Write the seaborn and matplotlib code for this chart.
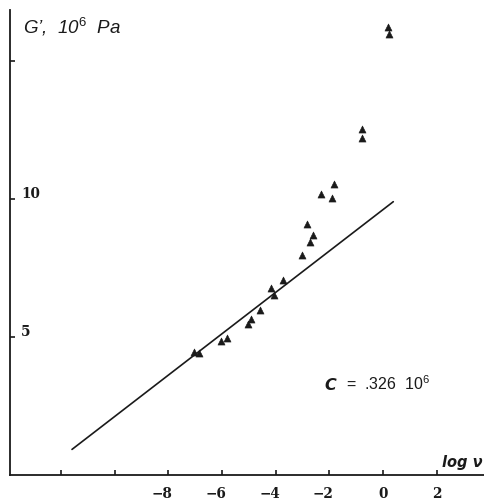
import matplotlib
matplotlib.use("Agg")
import matplotlib.pyplot as plt
import matplotlib.transforms as mtransforms
import seaborn as sns
import pandas as pd

# measured storage modulus (10^6 Pa) versus log frequency
log_nu = [0.20, 0.21, -0.79, -0.79, -1.84, -2.30, -1.89, -2.84, -2.62, -2.74,
          -3.03, -3.73, -4.19, -4.05, -4.57, -4.92, -5.05, -5.83, -6.05, -6.86, -7.05]
g_prime = [16.21, 15.96, 12.52, 12.19, 10.53, 10.16, 10.04, 9.08, 8.67, 8.43,
           7.95, 7.05, 6.75, 6.51, 5.96, 5.63, 5.47, 4.94, 4.85, 4.39, 4.43]

# straight-line reference, two end points
line_x = [-11.59, 0.38]
line_y = [0.91, 9.89]

x_ticks = [-12, -10, -8, -6, -4, -2, 0, 2]
x_tick_labels = ["", "", "−8", "−6", "−4", "−2", "0", "2"]
y_ticks = [5, 10, 15]
y_tick_labels = ["5", "10", ""]

sns.set_theme(style="white")
plt.rcParams["mathtext.fontset"] = "custom"
plt.rcParams["mathtext.rm"] = "Liberation Sans"
plt.rcParams["mathtext.it"] = "Liberation Sans:italic"

W, H = 485, 504
fig = plt.figure(figsize=(W / 100, H / 100), dpi=100)
ax = fig.add_axes([10 / W, (H - 474.5) / H, (484 - 10) / W, (474.5 - 10) / H])

pts = pd.DataFrame({"log_nu": log_nu, "G": g_prime})
sns.scatterplot(data=pts, x="log_nu", y="G", marker="^", s=26, color="#1a1a1a",
                edgecolor="#1a1a1a", linewidth=0.4, ax=ax, zorder=3)
sns.lineplot(x=line_x, y=line_y, color="#1a1a1a", linewidth=1.2, ax=ax)

ax.set_xlim(-13.9, 3.76)
ax.set_ylim(0, 16.84)
ax.set_xlabel("")
ax.set_ylabel("")

for side in ("top", "right"):
    ax.spines[side].set_visible(False)
for side in ("left", "bottom"):
    ax.spines[side].set_color("#1a1a1a")
    ax.spines[side].set_linewidth(1.3)

ax.set_xticks(x_ticks)
ax.set_xticklabels([])
ax.set_yticks(y_ticks)
ax.set_yticklabels([])
ax.tick_params(axis="both", which="major", direction="in", length=3.5, width=1.2,
               color="#1a1a1a", bottom=True, left=True)

num_font = dict(family="DejaVu Serif", fontweight="bold", fontsize=9.8, color="#1a1a1a")

# x tick labels under the axis, the digit centred on its tick
xt = mtransforms.blended_transform_factory(ax.transData, ax.transAxes)
for v, lab in zip(x_ticks, x_tick_labels):
    if not lab:
        continue
    if lab.startswith("−"):
        tr = mtransforms.offset_copy(xt, fig=fig, x=3.2, y=-9, units="points")
        ax.text(v, 0, lab, transform=tr, ha="right", va="top", **num_font)
    else:
        tr = mtransforms.offset_copy(xt, fig=fig, x=0, y=-9, units="points")
        ax.text(v, 0, lab, transform=tr, ha="center", va="top", **num_font)

# y tick labels just inside the axis, sitting on their ticks
yt = mtransforms.blended_transform_factory(ax.transAxes, ax.transData)
for v, lab in zip(y_ticks, y_tick_labels):
    if not lab:
        continue
    tr = mtransforms.offset_copy(yt, fig=fig, x=8, y=0.5, units="points")
    ax.text(0, v, lab, transform=tr, ha="left", va="baseline", **num_font)

# axis titles
fig.text(23 / W, 1 - 34 / H, "G’,  10$^{\\mathit{6}}$  Pa", family="Liberation Sans",
         style="italic", fontsize=13.5, color="#1a1a1a", ha="left", va="baseline")
fig.text(442 / W, 1 - 467 / H, "log ν", family="DejaVu Sans", style="italic",
         fontweight="bold", fontsize=10.5, color="#1a1a1a", ha="left", va="baseline")

# constant annotation
fig.text(324 / W, 1 - 390 / H, "C", family="DejaVu Sans", style="italic",
         fontweight="bold", fontsize=11.5, color="#1a1a1a", ha="left", va="baseline")
fig.text(346 / W, 1 - 390 / H, "=  .326  $\\mathrm{10}^{\\mathrm{6}}$", family="Liberation Sans",
         fontsize=11.5, color="#1a1a1a", ha="left", va="baseline")

fig.savefig("out.png", dpi=100, facecolor="white")
